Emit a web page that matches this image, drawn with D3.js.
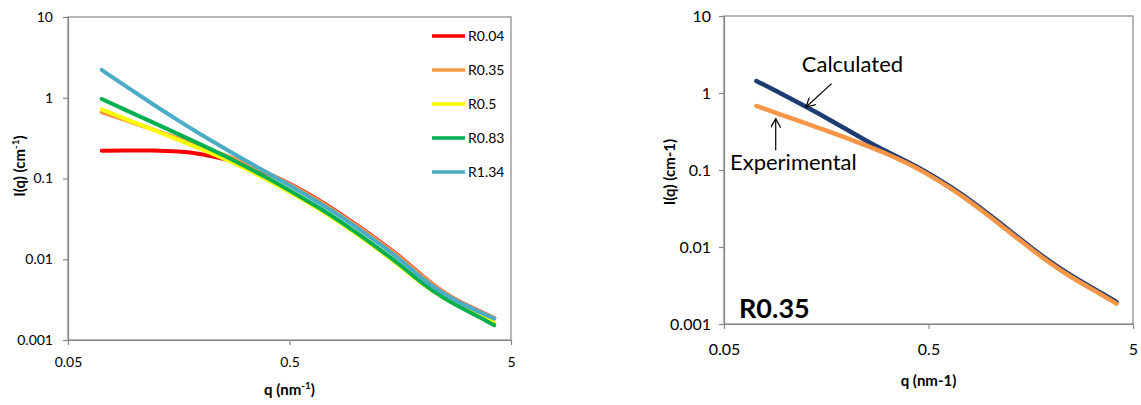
<!DOCTYPE html>
<html>
<head>
<meta charset="utf-8">
<script src="https://cdn.jsdelivr.net/npm/d3@7"></script>
<style>
    body { margin: 0; background: #fff; }
    text { font-family: Lato, "Liberation Sans", sans-serif; fill: #000; }
</style>
</head>
<body>
<svg id="chart" width="1141" height="405"></svg>
<script>
// Values
const qLeft = [0.071, 0.09, 0.12, 0.16, 0.2, 0.25, 0.3, 0.4, 0.5, 0.65, 0.8, 1.0, 1.3, 1.6, 2.0, 2.5, 3.0, 3.5, 4.2];
const r004 = [0.221, 0.2221, 0.2234, 0.2171, 0.2008, 0.1775, 0.1548, 0.1161, 0.0869, 0.0583, 0.0408, 0.02683, 0.01609, 0.01051, 0.00608, 0.0038, 0.00288, 0.00235, 0.00187];
const r035 = [0.66, 0.533, 0.4079, 0.3094, 0.2487, 0.1989, 0.1643, 0.117, 0.0856, 0.057, 0.0399, 0.02622, 0.01572, 0.01027, 0.00601, 0.0038, 0.00287, 0.00234, 0.00186];
const r05 = [0.719, 0.5538, 0.4049, 0.2959, 0.2315, 0.1791, 0.1426, 0.0959, 0.0686, 0.0451, 0.03155, 0.02084, 0.0124, 0.00805, 0.00482, 0.00326, 0.00253, 0.00207, 0.00163];
const r083 = [0.966, 0.7147, 0.4988, 0.3481, 0.2617, 0.195, 0.1521, 0.1011, 0.0716, 0.04666, 0.03279, 0.02156, 0.01282, 0.00832, 0.00493, 0.00326, 0.00248, 0.002, 0.00152];
const r134 = [2.21, 1.418, 0.8406, 0.5066, 0.3482, 0.2426, 0.1819, 0.1165, 0.0822, 0.054, 0.038, 0.02513, 0.01495, 0.00967, 0.0056, 0.00366, 0.00281, 0.0023, 0.00184];
const leftNames = ['R0.04', 'R0.35', 'R0.5', 'R0.83', 'R1.34'];
const leftColors = ['#FF0000', '#F79646', '#FFFF00', '#00B050', '#4BACC6'];

const qRight = [0.072, 0.09, 0.12, 0.16, 0.2, 0.25, 0.3, 0.4, 0.5, 0.65, 0.8, 1.0, 1.3, 1.6, 2.0, 2.5, 3.0, 3.5, 4.15];
const calculated = [1.432, 1.062, 0.7077, 0.469, 0.3328, 0.2372, 0.1828, 0.1265, 0.0915, 0.0594, 0.0404, 0.02586, 0.01492, 0.00965, 0.00624, 0.00423, 0.00318, 0.00252, 0.00193];
const experimental = [0.678, 0.551, 0.4215, 0.3208, 0.2584, 0.2066, 0.1706, 0.1208, 0.0874, 0.0567, 0.0386, 0.0247, 0.01425, 0.00922, 0.00596, 0.00404, 0.00304, 0.00241, 0.00184];
const rightColors = ['#1F3C72', '#F79646'];

const xTicks = [0.05, 0.5, 5];
const xTickLabels = ['0.05', '0.5', '5'];
const yTicks = [0.001, 0.01, 0.1, 1, 10];
const yTickLabels = ['0.001', '0.01', '0.1', '1', '10'];

// annotation anchors in data units [q, I]
const calcText = [0.12, 1.885];
const calcArrow = [[0.168, 1.325], [0.1259, 0.658]];
const expText = [0.0535, 0.099];
const expArrow = [[0.0895, 0.18], [0.0895, 0.465]];
const sampleLabel = [0.0592, 0.00121];

const axisGrey = '#868686';
const svg = d3.select('#chart');

svg.append('defs').append('marker')
    .attr('id', 'openArrow')
    .attr('viewBox', '0 0 10 10')
    .attr('refX', 9).attr('refY', 5)
    .attr('markerWidth', 10).attr('markerHeight', 10)
    .attr('markerUnits', 'userSpaceOnUse')
    .attr('orient', 'auto')
    .append('path')
    .attr('d', 'M0,0 L9,5 L0,10')
    .attr('fill', 'none')
    .attr('stroke', '#000')
    .attr('stroke-width', 1.2);

const drawPanel = (p) => {
    const x = d3.scaleLog().domain([0.05, 5]).range([p.left, p.right]);
    const y = d3.scaleLog().domain([0.001, 10]).range([p.bottom, p.top]);

    // frame
    svg.append('rect')
        .attr('x', p.left).attr('y', p.top)
        .attr('width', p.right - p.left).attr('height', p.bottom - p.top)
        .attr('fill', 'none').attr('stroke', axisGrey).attr('stroke-width', 1.2);

    const xAxis = d3.axisBottom(x).tickValues(xTicks)
        .tickFormat((d, i) => xTickLabels[i])
        .tickSize(5).tickSizeOuter(0).tickPadding(p.xPad);
    const gx = svg.append('g').attr('transform', 'translate(0,' + p.bottom + ')').call(xAxis);

    const yAxis = d3.axisLeft(y).tickValues(yTicks)
        .tickFormat((d, i) => yTickLabels[i])
        .tickSize(5).tickSizeOuter(0).tickPadding(p.yPad);
    const gy = svg.append('g').attr('transform', 'translate(' + p.left + ',0)').call(yAxis);

    [gx, gy].forEach(g => {
        g.select('.domain').attr('stroke', axisGrey).attr('stroke-width', 1.2);
        g.selectAll('.tick line').attr('stroke', axisGrey).attr('stroke-width', 1.2);
        g.selectAll('.tick text')
            .style('font-family', 'Lato, sans-serif')
            .style('font-size', p.tickFont + 'px')
            .attr('fill', '#000');
    });

    const line = d3.line()
        .x(d => x(d[0]))
        .y(d => y(d[1]))
        .curve(d3.curveBasis);

    p.series.forEach((s, i) => {
        svg.append('path')
            .datum(p.q.map((q, j) => [q, s[j]]))
            .attr('d', line)
            .attr('fill', 'none')
            .attr('stroke', p.colors[i])
            .attr('stroke-width', p.lineWidth)
            .attr('stroke-linecap', 'round');
    });

    // x title
    const xt = svg.append('text')
        .attr('x', x(0.5)).attr('y', p.xTitleY)
        .attr('text-anchor', 'middle')
        .style('font-size', p.titleFont + 'px')
        .style('font-weight', 'bold');
    if (p.superscript) {
        xt.append('tspan').text('q (nm');
        xt.append('tspan').attr('dy', -6).style('font-size', (p.titleFont - 5) + 'px').text('-1');
        xt.append('tspan').attr('dy', 6).text(')');
    } else {
        xt.text('q (nm-1)');
    }

    // y title
    const yt = svg.append('text')
        .attr('transform', 'translate(' + p.yTitleX + ',' + p.yTitleMid + ') rotate(-90)')
        .attr('text-anchor', 'middle')
        .style('font-size', p.titleFont + 'px')
        .style('font-weight', 'bold');
    if (p.superscript) {
        yt.append('tspan').text('I(q) (cm');
        yt.append('tspan').attr('dy', -6).style('font-size', (p.titleFont - 5) + 'px').text('-1');
        yt.append('tspan').attr('dy', 6).text(')');
    } else {
        yt.text('I(q) (cm-1)');
    }

    return {x, y};
};

// Left panel
const left = drawPanel({
    left: 68, right: 511, top: 17, bottom: 340,
    xPad: 12, yPad: 10, tickFont: 14, titleFont: 15, lineWidth: 4,
    xTitleY: 395, yTitleX: 25, yTitleMid: 166, superscript: true,
    q: qLeft, series: [r004, r035, r05, r083, r134], colors: leftColors
});

// Legend
const legend = svg.append('g').attr('transform', 'translate(432,36)');
leftNames.forEach((name, i) => {
    legend.append('line')
        .attr('x1', 0).attr('x2', 33)
        .attr('y1', i * 34).attr('y2', i * 34)
        .attr('stroke', leftColors[i]).attr('stroke-width', 3.5);
    legend.append('text')
        .attr('x', 36).attr('y', i * 34)
        .attr('dy', '0.35em')
        .style('font-size', '14px')
        .text(name);
});

// Right panel
const right = drawPanel({
    left: 724, right: 1133, top: 16, bottom: 324,
    xPad: 15, yPad: 8, tickFont: 16, titleFont: 15, lineWidth: 4.5,
    xTitleY: 386, yTitleX: 675, yTitleMid: 172, superscript: false,
    q: qRight, series: [calculated, experimental], colors: rightColors
});

svg.append('text')
    .attr('x', right.x(calcText[0])).attr('y', right.y(calcText[1]))
    .style('font-size', '22px')
    .text('Calculated');
svg.append('line')
    .attr('x1', right.x(calcArrow[0][0])).attr('y1', right.y(calcArrow[0][1]))
    .attr('x2', right.x(calcArrow[1][0])).attr('y2', right.y(calcArrow[1][1]))
    .attr('stroke', '#000').attr('stroke-width', 1.2)
    .attr('marker-end', 'url(#openArrow)');

svg.append('text')
    .attr('x', right.x(expText[0])).attr('y', right.y(expText[1]))
    .style('font-size', '22px')
    .text('Experimental');
svg.append('line')
    .attr('x1', right.x(expArrow[0][0])).attr('y1', right.y(expArrow[0][1]))
    .attr('x2', right.x(expArrow[1][0])).attr('y2', right.y(expArrow[1][1]))
    .attr('stroke', '#000').attr('stroke-width', 1.2)
    .attr('marker-end', 'url(#openArrow)');

svg.append('text')
    .attr('x', right.x(sampleLabel[0])).attr('y', right.y(sampleLabel[1]))
    .style('font-size', '27px')
    .style('font-weight', 'bold')
    .text('R0.35');
</script>
</body>
</html>
